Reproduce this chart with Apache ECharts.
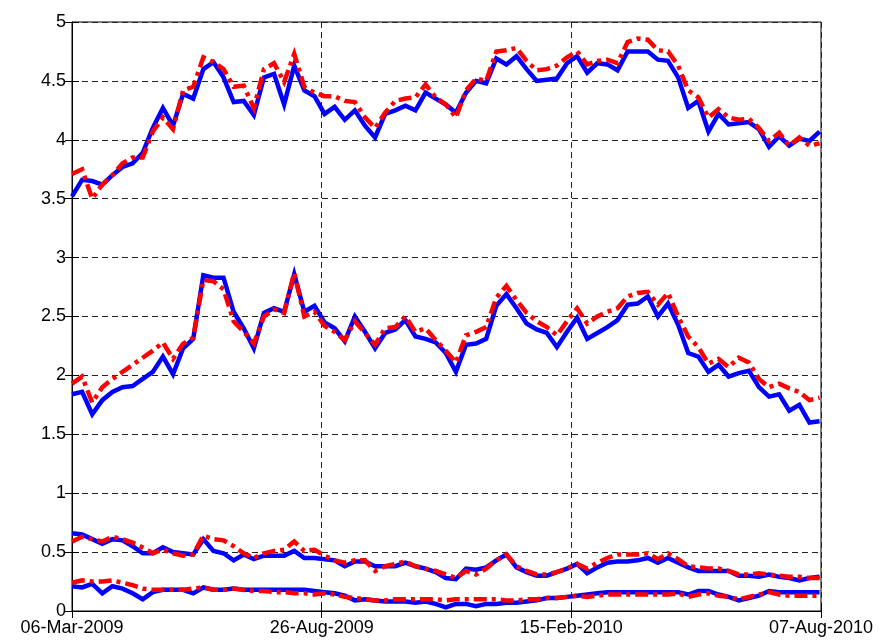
<!DOCTYPE html>
<html>
<head>
<meta charset="utf-8">
<script src="https://cdn.jsdelivr.net/npm/echarts@6/dist/echarts.min.js"></script>
<style>html,body{margin:0;padding:0;background:#fff}#c{width:888px;height:643px}</style>
</head>
<body>
<div id="c"></div>
<script>
// Weekly observations starting 06-Mar-2009 (day offsets)
const weekOffsets = [];
for (let i = 0; i < 75; i++) weekOffsets.push(i * 7);

const xTickLabels = ['06-Mar-2009', '26-Aug-2009', '15-Feb-2010', '07-Aug-2010'];
const xTickStep = 173;
const yTickLabels = ['0','0.5','1','1.5','2','2.5','3','3.5','4','4.5','5'];

const blue1 = [3.52,3.66,3.65,3.62,3.70,3.77,3.80,3.89,4.10,4.27,4.12,4.39,4.35,4.60,4.66,4.53,4.32,4.33,4.21,4.53,4.56,4.30,4.63,4.42,4.37,
  4.22,4.28,4.17,4.25,4.12,4.02,4.22,4.25,4.29,4.25,4.40,4.35,4.30,4.23,4.40,4.50,4.48,4.69,4.64,4.71,4.60,4.50,4.51,4.52,4.65,4.71,
  4.57,4.65,4.64,4.59,4.75,4.75,4.75,4.68,4.67,4.53,4.27,4.33,4.07,4.22,4.13,4.14,4.15,4.09,3.94,4.03,3.95,4.01,3.99,4.07];
const red1 = [3.71,3.75,3.50,3.62,3.70,3.80,3.85,3.85,4.07,4.19,4.09,4.42,4.45,4.70,4.66,4.60,4.45,4.46,4.27,4.60,4.65,4.49,4.73,4.45,4.40,
  4.37,4.37,4.33,4.32,4.19,4.10,4.23,4.33,4.35,4.36,4.47,4.36,4.30,4.19,4.42,4.52,4.50,4.75,4.76,4.78,4.67,4.59,4.60,4.63,4.70,4.75,
  4.64,4.67,4.68,4.65,4.83,4.86,4.85,4.76,4.75,4.63,4.42,4.36,4.19,4.26,4.19,4.17,4.18,4.10,3.99,4.06,3.95,4.02,3.95,3.97];
const blue2 = [1.84,1.86,1.67,1.79,1.86,1.90,1.91,1.97,2.03,2.16,2.01,2.23,2.31,2.85,2.83,2.83,2.54,2.40,2.23,2.53,2.57,2.54,2.86,2.54,2.59,
  2.45,2.40,2.29,2.50,2.37,2.23,2.36,2.39,2.47,2.33,2.31,2.28,2.19,2.03,2.26,2.27,2.31,2.59,2.69,2.57,2.44,2.39,2.36,2.24,2.37,2.49,
  2.31,2.36,2.41,2.47,2.60,2.61,2.67,2.50,2.61,2.43,2.19,2.16,2.03,2.09,1.99,2.02,2.04,1.90,1.82,1.84,1.70,1.75,1.60,1.61];
const red2 = [1.93,1.99,1.77,1.90,1.97,2.03,2.09,2.15,2.21,2.28,2.14,2.27,2.32,2.81,2.80,2.73,2.46,2.37,2.27,2.50,2.56,2.53,2.87,2.50,2.54,
  2.42,2.37,2.30,2.46,2.36,2.26,2.40,2.41,2.50,2.37,2.40,2.30,2.21,2.11,2.34,2.37,2.41,2.66,2.76,2.64,2.53,2.46,2.41,2.34,2.46,2.57,
  2.44,2.50,2.54,2.57,2.67,2.70,2.71,2.60,2.70,2.50,2.33,2.24,2.10,2.14,2.07,2.15,2.11,1.97,1.90,1.93,1.89,1.86,1.79,1.81];
const blue3 = [0.66,0.65,0.61,0.57,0.61,0.60,0.55,0.49,0.49,0.54,0.50,0.49,0.48,0.61,0.51,0.49,0.43,0.48,0.44,0.47,0.47,0.47,0.51,0.45,0.45,
  0.44,0.43,0.38,0.42,0.42,0.38,0.38,0.38,0.41,0.38,0.36,0.33,0.28,0.27,0.36,0.35,0.37,0.43,0.48,0.37,0.33,0.30,0.30,0.33,0.36,0.40,
  0.32,0.37,0.41,0.42,0.42,0.43,0.45,0.41,0.45,0.41,0.37,0.34,0.34,0.34,0.34,0.30,0.30,0.29,0.31,0.29,0.28,0.26,0.28,0.29];
const red3 = [0.59,0.63,0.61,0.59,0.63,0.61,0.58,0.54,0.49,0.52,0.49,0.47,0.48,0.64,0.61,0.60,0.55,0.49,0.45,0.49,0.51,0.52,0.59,0.51,0.52,
  0.47,0.43,0.41,0.43,0.43,0.34,0.38,0.40,0.42,0.38,0.36,0.34,0.31,0.28,0.34,0.31,0.36,0.43,0.48,0.38,0.34,0.31,0.31,0.33,0.36,0.40,
  0.36,0.41,0.45,0.48,0.48,0.48,0.49,0.44,0.49,0.44,0.38,0.37,0.36,0.36,0.34,0.31,0.31,0.32,0.31,0.30,0.29,0.29,0.28,0.28];
const blue4 = [0.21,0.20,0.23,0.15,0.21,0.19,0.15,0.10,0.16,0.18,0.18,0.18,0.15,0.20,0.18,0.18,0.19,0.18,0.18,0.18,0.18,0.18,0.18,0.18,0.17,
  0.16,0.15,0.13,0.09,0.10,0.09,0.08,0.08,0.08,0.07,0.08,0.06,0.03,0.06,0.06,0.04,0.06,0.06,0.07,0.07,0.08,0.09,0.11,0.11,0.12,0.13,
  0.14,0.15,0.16,0.16,0.16,0.16,0.16,0.16,0.16,0.16,0.14,0.17,0.17,0.14,0.12,0.09,0.11,0.13,0.17,0.16,0.16,0.16,0.16,0.16];
const red4 = [0.24,0.26,0.25,0.25,0.26,0.24,0.22,0.19,0.18,0.18,0.18,0.18,0.19,0.20,0.18,0.18,0.19,0.18,0.17,0.17,0.16,0.16,0.15,0.15,0.14,
  0.15,0.14,0.12,0.11,0.10,0.09,0.09,0.10,0.10,0.10,0.10,0.10,0.09,0.10,0.10,0.10,0.10,0.10,0.09,0.09,0.10,0.10,0.11,0.11,0.12,0.13,
  0.12,0.13,0.14,0.14,0.14,0.14,0.14,0.14,0.14,0.15,0.12,0.14,0.15,0.13,0.12,0.10,0.12,0.14,0.16,0.14,0.13,0.13,0.13,0.13];

const pair = arr => arr.map((v, i) => [weekOffsets[i], v]);
const font = 'Liberation Sans, Arial, Helvetica, sans-serif';

const blueStyle = { color: '#0000ff', width: 4.5, type: 'solid', cap: 'butt', join: 'miter' };
const redStyle = { color: '#ff0000', width: 4.5, type: [13, 5, 4, 5], cap: 'butt', join: 'miter' };

function mk(data, style) {
  return { type: 'line', data: pair(data), showSymbol: false, symbol: 'none', lineStyle: style,
    animation: false, xAxisIndex: 0, yAxisIndex: 0, z: style === redStyle ? 3 : 2 };
}

const chart = echarts.init(document.getElementById('c'), null, { renderer: 'canvas' });
chart.setOption({
  backgroundColor: '#ffffff',
  animation: false,
  grid: { left: 72, right: 67, top: 22, bottom: 32, show: true, borderColor: '#000', borderWidth: 1, backgroundColor: 'transparent' },
  xAxis: [{
    type: 'value', min: 0, max: 519, interval: xTickStep,
    axisLine: { show: true, lineStyle: { color: '#000', width: 1 } },
    axisTick: { show: true, inside: true, length: 7, lineStyle: { color: '#000' } },
    axisLabel: { color: '#000', fontSize: 18, fontFamily: font, margin: 8,
      formatter: v => xTickLabels[Math.round(v / xTickStep)] || '' },
    splitLine: { show: true, lineStyle: { color: '#222', type: [6, 4], width: 1 } }
  }, {
    type: 'value', position: 'top', min: 0, max: 519, interval: xTickStep,
    axisLine: { show: false }, axisLabel: { show: false }, splitLine: { show: false },
    axisTick: { show: true, inside: true, length: 7, lineStyle: { color: '#000' } }
  }],
  yAxis: [{
    type: 'value', min: 0, max: 5, interval: 0.5,
    axisLine: { show: true, lineStyle: { color: '#000', width: 1 } },
    axisTick: { show: true, inside: true, length: 7, lineStyle: { color: '#000' } },
    axisLabel: { color: '#000', fontSize: 18, fontFamily: font, margin: 6,
      formatter: v => yTickLabels[Math.round(v / 0.5)] },
    splitLine: { show: true, lineStyle: { color: '#222', type: [6, 4], width: 1 } }
  }, {
    type: 'value', position: 'right', min: 0, max: 5, interval: 0.5,
    axisLine: { show: false }, axisLabel: { show: false }, splitLine: { show: false },
    axisTick: { show: true, inside: true, length: 7, lineStyle: { color: '#000' } }
  }],
  series: [
    mk(blue1, blueStyle), mk(blue2, blueStyle), mk(blue3, blueStyle), mk(blue4, blueStyle),
    mk(red1, redStyle), mk(red2, redStyle), mk(red3, redStyle), mk(red4, redStyle)
  ]
});
</script>
</body>
</html>
